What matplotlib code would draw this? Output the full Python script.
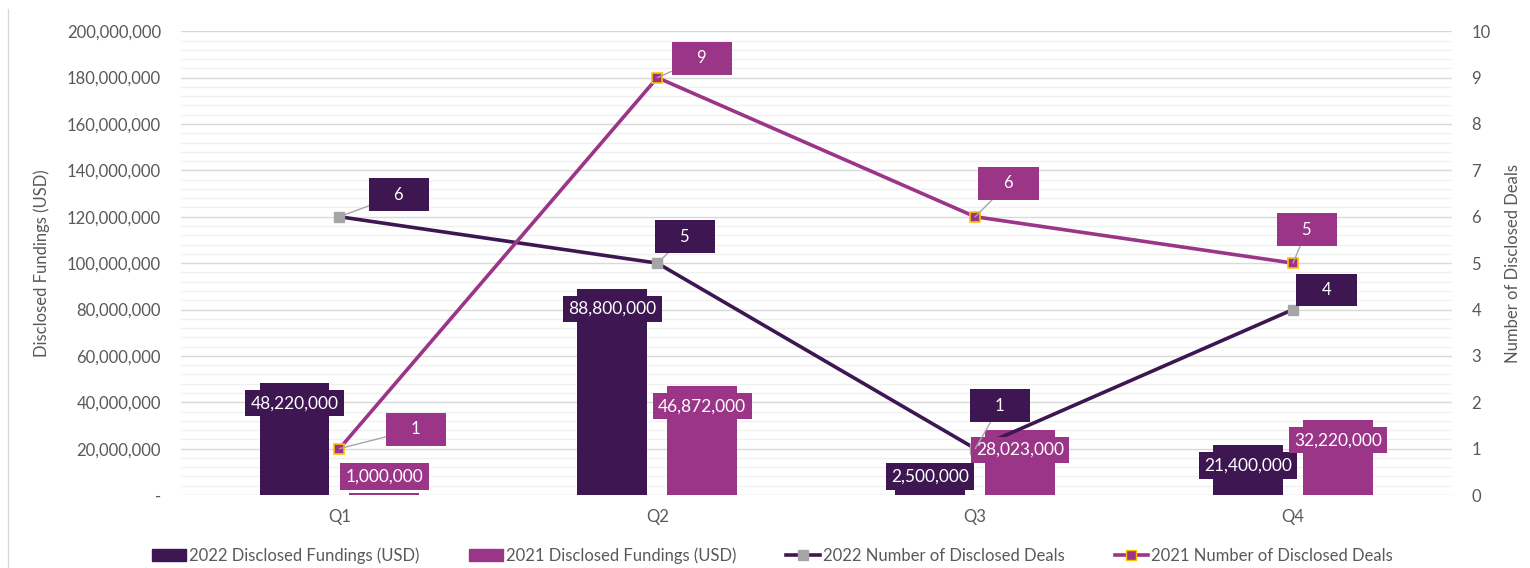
import numpy as np
import matplotlib
matplotlib.use("Agg")
import matplotlib.pyplot as plt
from matplotlib.patches import Patch
from matplotlib.lines import Line2D
from matplotlib.ticker import FuncFormatter, MultipleLocator

# Data
quarters = ["Q1", "Q2", "Q3", "Q4"]
fund_2022 = [48220000, 88800000, 2500000, 21400000]
fund_2021 = [1000000, 46872000, 28023000, 32220000]
deals_2022 = [6, 5, 1, 4]
deals_2021 = [1, 9, 6, 5]

# Colours
dark = "#3E1752"
magenta = "#9B3588"
grey_txt = "#595959"

plt.rcParams["font.family"] = ["Lato", "DejaVu Sans"]

fig = plt.figure(figsize=(15.3, 5.68), dpi=100)
ax = fig.add_axes([0.118, 0.1285, 0.831, 0.8165])
ax2 = ax.twinx()
ax2.set_ylim(0, 10)

x = np.arange(len(quarters))
off = 0.1415
w = 0.22
ax.bar(x - off, fund_2022, w, color=dark, zorder=2)
ax.bar(x + off, fund_2021, w, color=magenta, zorder=2)

# lines are drawn in ax (so they sit over the bars) but use the right axis scale
ax.plot(x, deals_2022, transform=ax2.transData, color=dark, lw=2.6, marker="s", ms=7,
        mfc="#A5A5A5", mec="#A5A5A5", zorder=3)
ax.plot(x, deals_2021, transform=ax2.transData, color=magenta, lw=2.6, marker="s", ms=7,
        mfc=magenta, mec="#FFC000", mew=1.2, zorder=3)

ax.set_xlim(-0.5, 3.5)
ax.set_ylim(0, 200000000)
ax.yaxis.set_major_locator(MultipleLocator(20000000))
ax.yaxis.set_minor_locator(MultipleLocator(4000000))
ax.yaxis.set_major_formatter(FuncFormatter(lambda v, p: "-" if v == 0 else f"{int(v):,}"))
ax.grid(axis="y", which="major", color="#D9D9D9", lw=1, zorder=0)
ax.grid(axis="y", which="minor", color="#F0F0F0", lw=1, zorder=0)
ax.set_axisbelow(True)
ax.set_xticks(x)
ax.set_xticklabels(quarters)
ax.tick_params(axis="both", which="both", length=0, labelsize=12, colors=grey_txt, pad=14)
ax.tick_params(axis="x", pad=10)
for s in ax.spines.values():
    s.set_visible(False)
for s in ax2.spines.values():
    s.set_visible(False)
ax.set_ylabel("Disclosed Fundings (USD)", fontsize=12, color=grey_txt, labelpad=12)

# bar value labels
def bar_label(xpos, val, col):
    ypos = max(val, 16600000) - 8600000
    ax.text(xpos, ypos, f"{val:,}", ha="center", va="center", color="white",
            fontsize=12.5, zorder=6,
            bbox=dict(boxstyle="square,pad=0.3", fc=col, ec="none"))

for i in range(len(quarters)):
    bar_label(x[i] - off, fund_2022[i], dark)
    bar_label(x[i] + off, fund_2021[i], magenta)

# right axis
ax2.set_yticks(range(0, 11))
ax2.tick_params(axis="y", length=0, labelsize=12, colors=grey_txt, pad=14)
ax2.set_ylabel("Number of Disclosed Deals", fontsize=12, color=grey_txt, labelpad=10)

# line data labels, offsets in points
offs_2022 = [(43, 16), (20, 19), (18, 31), (24, 14)]
offs_2021 = [(55, 14), (32, 14), (24, 24), (10, 24)]

def line_label(xi, val, dxy, col):
    ax.annotate(f"    {val}    ", xy=(xi, val), xycoords=ax2.transData,
                xytext=dxy, textcoords="offset points",
                ha="center", va="center", color="white", fontsize=12, zorder=7,
                bbox=dict(boxstyle="square,pad=0.5", fc=col, ec="none"),
                arrowprops=dict(arrowstyle="-", color="#A6A6A6", lw=1, shrinkA=0, shrinkB=0))

for i in range(len(quarters)):
    line_label(x[i], deals_2022[i], offs_2022[i], dark)
    line_label(x[i], deals_2021[i], offs_2021[i], magenta)

# legend
handles = [
    Patch(color=dark, label="2022 Disclosed Fundings (USD)"),
    Patch(color=magenta, label="2021 Disclosed Fundings (USD)"),
    Line2D([], [], color=dark, lw=2.6, marker="s", ms=7, mfc="#A5A5A5", mec="#A5A5A5",
           label="2022 Number of Disclosed Deals"),
    Line2D([], [], color=magenta, lw=2.6, marker="s", ms=7, mfc=magenta, mec="#FFC000",
           label="2021 Number of Disclosed Deals"),
]
leg = fig.legend(handles=handles, loc="center", bbox_to_anchor=(0.505, 0.022), ncol=4,
                 frameon=False, fontsize=12, handlelength=2.0, handletextpad=0.2,
                 columnspacing=3.0)
for t in leg.get_texts():
    t.set_color(grey_txt)

# left frame line
fig.add_artist(Line2D([0.005, 0.005], [0, 0.985], color="#D9D9D9", lw=1))

fig.savefig("out.png", dpi=100)
